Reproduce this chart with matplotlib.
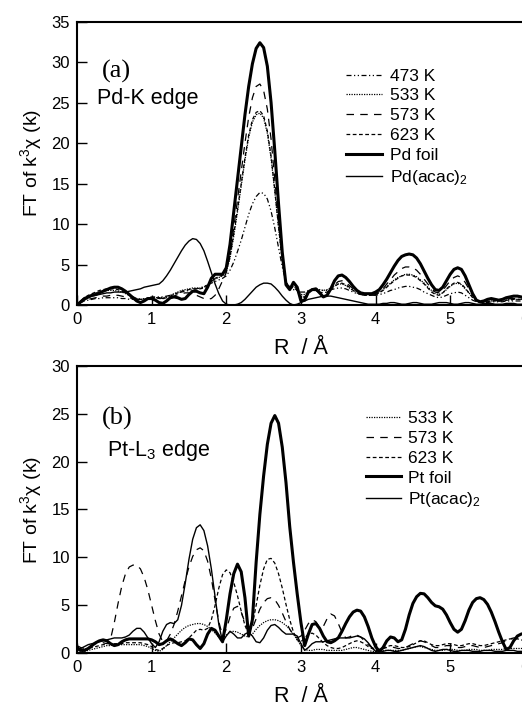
import numpy as np
import matplotlib
matplotlib.use("Agg")
import matplotlib.pyplot as plt

plt.rcParams['font.family'] = ['Liberation Sans', 'DejaVu Sans']
plt.rcParams['mathtext.fontset'] = 'custom'
plt.rcParams['mathtext.rm'] = 'Liberation Sans'
plt.rcParams['mathtext.it'] = 'Liberation Sans:italic'

# R grid (Angstrom), 0.05 step
r = np.linspace(0, 6, 121)

# ---------------- (a) Pd-K edge ----------------
pd_473 = [0, 0.3, 0.5, 0.6, 0.7, 0.8, 0.8, 0.9, 0.9, 0.9,
          0.9, 0.9, 0.8, 0.8, 0.7, 0.7, 0.7, 0.7, 0.8, 0.9,
          1.0, 1.0, 1.0, 1.0, 1.1, 1.2, 1.3, 1.5, 1.6, 1.7,
          1.8, 1.9, 2.0, 2.1, 2.3, 2.5, 2.7, 2.9, 3.1, 3.3,
          3.6, 4.3, 5.3, 6.6, 8.0, 9.6, 11.2, 12.5, 13.4, 13.9,
          13.8, 13.1, 11.6, 9.5, 7.1, 4.7, 2.9, 2.0, 1.9, 1.8,
          1.6, 1.6, 1.8, 1.9, 1.9, 1.8, 1.8, 1.8, 1.9, 2.0,
          2.1, 2.1, 2.0, 1.8, 1.6, 1.4, 1.3, 1.2, 1.2, 1.2,
          1.2, 1.3, 1.4, 1.6, 1.8, 1.9, 2.1, 2.2, 2.3, 2.3,
          2.2, 2.1, 1.9, 1.6, 1.4, 1.2, 1.0, 0.9, 1.0, 1.2,
          1.4, 1.5, 1.6, 1.5, 1.2, 0.9, 0.6, 0.4, 0.3, 0.3,
          0.3, 0.4, 0.4, 0.4, 0.4, 0.5, 0.5, 0.5, 0.5, 0.5,
          0.5]
pd_533 = [0, 0.5, 0.9, 1.1, 1.3, 1.5, 1.6, 1.7, 1.8, 1.8,
          1.8, 1.7, 1.6, 1.4, 1.2, 1.0, 0.8, 0.7, 0.7, 0.8,
          0.9, 0.9, 0.9, 0.9, 1.0, 1.2, 1.4, 1.6, 1.8, 1.9,
          2.0, 2.1, 2.1, 2.1, 2.2, 2.5, 2.9, 3.2, 3.4, 3.6,
          4.1, 5.8, 8.5, 11.5, 14.7, 17.9, 20.7, 22.6, 23.5, 23.7,
          23.1, 21.2, 18.1, 14.0, 9.6, 5.4, 2.8, 2.2, 2.3, 2.0,
          1.3, 1.3, 1.7, 2.0, 2.0, 1.9, 1.8, 1.9, 2.1, 2.4,
          2.6, 2.6, 2.4, 2.1, 1.8, 1.6, 1.4, 1.3, 1.3, 1.3,
          1.4, 1.6, 1.9, 2.3, 2.7, 3.1, 3.4, 3.6, 3.8, 3.8,
          3.7, 3.5, 3.1, 2.7, 2.2, 1.8, 1.4, 1.3, 1.5, 1.9,
          2.3, 2.6, 2.7, 2.5, 2.0, 1.5, 1.0, 0.6, 0.4, 0.4,
          0.5, 0.5, 0.6, 0.6, 0.6, 0.6, 0.7, 0.7, 0.7, 0.7,
          0.6]
pd_573 = [0, 0.3, 0.5, 0.7, 0.8, 0.9, 1.0, 1.1, 1.1, 1.2,
          1.2, 1.2, 1.1, 1.0, 0.9, 0.8, 0.7, 0.7, 0.7, 0.8,
          0.9, 0.9, 0.9, 0.8, 0.8, 0.9, 1.1, 1.3, 1.4, 1.5,
          1.5, 1.4, 1.2, 1.0, 0.8, 0.7, 0.8, 1.2, 2.0, 3.0,
          4.0, 6.3, 9.5, 13.0, 16.5, 20.0, 23.2, 25.6, 27.0, 27.3,
          26.5, 24.2, 20.5, 15.5, 10.5, 5.8, 2.8, 2.2, 2.4, 1.8,
          0.8, 0.9, 1.5, 1.8, 1.8, 1.5, 1.3, 1.4, 1.9, 2.5,
          2.9, 3.0, 2.8, 2.4, 2.0, 1.6, 1.4, 1.3, 1.2, 1.2,
          1.3, 1.6, 2.0, 2.6, 3.1, 3.7, 4.1, 4.5, 4.7, 4.7,
          4.6, 4.3, 3.8, 3.2, 2.6, 2.0, 1.6, 1.5, 1.8, 2.4,
          3.0, 3.4, 3.6, 3.4, 2.8, 2.0, 1.2, 0.6, 0.4, 0.4,
          0.5, 0.6, 0.6, 0.5, 0.6, 0.7, 0.8, 0.8, 0.8, 0.8,
          0.7]
pd_623 = [0, 0.5, 0.9, 1.2, 1.4, 1.6, 1.8, 1.9, 2.0, 2.0,
          2.0, 1.9, 1.7, 1.5, 1.2, 1.0, 0.8, 0.7, 0.7, 0.8,
          0.9, 0.9, 0.8, 0.8, 0.9, 1.1, 1.3, 1.5, 1.7, 1.8,
          1.9, 2.0, 2.0, 2.0, 2.1, 2.4, 2.9, 3.3, 3.5, 3.7,
          4.2, 6.0, 8.8, 11.8, 15.0, 18.2, 21.0, 22.9, 23.8, 24.0,
          23.4, 21.5, 18.4, 14.2, 9.7, 5.5, 2.7, 2.0, 2.2, 1.8,
          1.0, 1.0, 1.5, 1.8, 1.8, 1.6, 1.5, 1.6, 1.9, 2.3,
          2.6, 2.7, 2.5, 2.2, 1.8, 1.5, 1.3, 1.2, 1.2, 1.2,
          1.3, 1.5, 1.8, 2.2, 2.6, 3.0, 3.3, 3.6, 3.7, 3.7,
          3.6, 3.4, 3.0, 2.6, 2.1, 1.6, 1.3, 1.2, 1.5, 2.0,
          2.4, 2.7, 2.8, 2.6, 2.1, 1.5, 0.9, 0.5, 0.3, 0.3,
          0.4, 0.5, 0.5, 0.5, 0.5, 0.6, 0.6, 0.7, 0.7, 0.7,
          0.6]
pd_foil = [0, 0.4, 0.8, 1.0, 1.2, 1.3, 1.5, 1.7, 1.9, 2.1,
           2.2, 2.2, 2.0, 1.7, 1.3, 0.9, 0.5, 0.3, 0.5, 0.8,
           0.8, 0.6, 0.3, 0.2, 0.5, 0.9, 1.0, 0.9, 0.7, 0.8,
           1.3, 1.7, 1.7, 1.5, 1.4, 2.2, 3.3, 3.8, 3.8, 3.8,
           4.6, 7.5, 11.5, 15.5, 19.5, 23.5, 27.0, 29.8, 31.7, 32.4,
           31.8, 29.5, 25.0, 19.0, 12.5, 6.5, 2.5, 1.9, 2.8, 2.2,
           0.5, 0.6, 1.6, 1.9, 2.0, 1.5, 1.0, 1.2, 2.0, 3.0,
           3.6, 3.7, 3.4, 2.9, 2.3, 1.8, 1.5, 1.4, 1.4, 1.4,
           1.6, 1.9, 2.5, 3.2, 4.0, 4.8, 5.5, 6.0, 6.2, 6.3,
           6.2, 5.8, 5.1, 4.2, 3.3, 2.5, 1.9, 1.8, 2.2, 3.0,
           3.8, 4.4, 4.6, 4.4, 3.6, 2.5, 1.4, 0.6, 0.4, 0.5,
           0.7, 0.8, 0.7, 0.6, 0.7, 0.9, 1.0, 1.1, 1.1, 1.0,
           0.9]
pd_acac = [0, 0.3, 0.6, 0.9, 1.1, 1.2, 1.3, 1.4, 1.5, 1.5,
           1.6, 1.6, 1.6, 1.6, 1.7, 1.8, 1.9, 2.0, 2.2, 2.3,
           2.4, 2.5, 2.6, 3.0, 3.6, 4.3, 5.1, 5.9, 6.7, 7.4,
           7.9, 8.2, 8.1, 7.6, 6.7, 5.4, 4.0, 2.6, 1.4, 0.5,
           0.1, 0.0, 0.0, 0.1, 0.3, 0.7, 1.2, 1.7, 2.2, 2.5,
           2.7, 2.7, 2.6, 2.2, 1.7, 1.1, 0.6, 0.2, 0.0, 0.1,
           0.3, 0.5, 0.7, 0.8, 0.9, 1.0, 1.1, 1.1, 1.1, 1.0,
           0.9, 0.8, 0.7, 0.6, 0.5, 0.4, 0.3, 0.2, 0.1, 0.1,
           0.1, 0.1, 0.2, 0.2, 0.3, 0.3, 0.2, 0.1, 0.1, 0.2,
           0.3, 0.3, 0.2, 0.1, 0.1, 0.1, 0.2, 0.3, 0.3, 0.3,
           0.2, 0.1, 0.1, 0.2, 0.3, 0.3, 0.2, 0.1, 0.1, 0.2,
           0.2, 0.2, 0.1, 0.1, 0.1, 0.2, 0.2, 0.2, 0.1, 0.1,
           0.1]

# ---------------- (b) Pt-L3 edge ----------------
pt_533 = [0.3, 0.2, 0.2, 0.3, 0.4, 0.5, 0.6, 0.7, 0.8, 0.8,
          0.9, 0.9, 0.9, 0.9, 0.9, 0.9, 0.9, 0.9, 0.8, 0.7,
          0.5, 0.3, 0.2, 0.4, 0.8, 1.2, 1.6, 2.0, 2.4, 2.7,
          2.9, 3.0, 3.1, 3.1, 3.0, 2.8, 2.5, 2.1, 1.7, 1.6,
          1.9, 2.2, 2.3, 2.2, 2.0, 1.8, 1.7, 2.0, 2.5, 2.9,
          3.2, 3.4, 3.5, 3.5, 3.4, 3.2, 2.9, 2.5, 2.0, 1.4,
          0.8, 0.4, 0.3, 0.3, 0.4, 0.4, 0.4, 0.3, 0.3, 0.3,
          0.3, 0.3, 0.4, 0.5, 0.6, 0.6, 0.5, 0.4, 0.3, 0.2,
          0.2, 0.2, 0.3, 0.3, 0.3, 0.3, 0.3, 0.3, 0.4, 0.5,
          0.6, 0.7, 0.7, 0.6, 0.5, 0.4, 0.3, 0.3, 0.3, 0.4,
          0.4, 0.4, 0.3, 0.3, 0.3, 0.4, 0.4, 0.4, 0.3, 0.3,
          0.3, 0.4, 0.4, 0.4, 0.4, 0.5, 0.5, 0.5, 0.5, 0.5,
          0.5]
pt_573 = [0.8, 0.6, 0.5, 0.6, 0.8, 1.0, 1.1, 1.1, 1.0, 1.5,
          3.2, 5.2, 7.0, 8.3, 9.0, 9.2, 9.2, 8.8, 7.9, 6.6,
          5.0, 3.4, 2.0, 1.2, 1.3, 2.0, 3.0, 4.4, 6.0, 7.6,
          9.0, 10.1, 10.8, 11.0, 10.7, 9.6, 7.8, 5.5, 3.3, 1.8,
          2.5, 3.8, 4.7, 4.9, 4.3, 3.2, 2.3, 2.6, 3.6, 4.6,
          5.3, 5.7, 5.8, 5.6, 5.0, 4.2, 3.3, 2.5, 1.9, 1.6,
          1.8, 2.4, 3.1, 3.5, 3.3, 2.7, 2.8, 3.6, 4.1, 3.9,
          3.1, 2.2, 1.6, 1.7, 1.9, 1.9, 1.7, 1.3, 0.9, 0.6,
          0.4, 0.4, 0.5, 0.6, 0.7, 0.6, 0.5, 0.5, 0.6, 0.8,
          1.0, 1.2, 1.3, 1.2, 1.0, 0.8, 0.6, 0.6, 0.7, 0.8,
          0.8, 0.7, 0.6, 0.6, 0.7, 0.8, 0.8, 0.7, 0.6, 0.6,
          0.7, 0.8, 0.9, 1.0, 1.1, 1.3, 1.5, 1.6, 1.6, 1.6,
          1.6]
pt_623 = [0.4, 0.3, 0.4, 0.5, 0.6, 0.7, 0.8, 0.9, 1.0, 1.0,
          1.0, 1.0, 1.0, 1.1, 1.1, 1.1, 1.1, 1.1, 1.0, 0.9,
          0.7, 0.4, 0.3, 0.5, 0.8, 1.0, 1.1, 1.1, 1.2, 1.3,
          1.6, 2.0, 2.4, 2.5, 2.4, 2.6, 3.5, 5.0, 6.8, 8.2,
          8.7, 8.4, 7.4, 6.0, 4.4, 2.9, 2.0, 3.0, 5.0, 7.1,
          8.8, 9.8, 9.9, 9.4, 8.3, 6.8, 5.1, 3.5, 2.2, 1.4,
          1.2, 1.6, 2.0, 2.1, 1.9, 1.5, 1.1, 0.8, 0.6, 0.5,
          0.5, 0.6, 0.8, 1.0, 1.2, 1.3, 1.2, 1.0, 0.7, 0.5,
          0.4, 0.4, 0.5, 0.7, 0.8, 0.8, 0.7, 0.6, 0.6, 0.7,
          0.9, 1.1, 1.3, 1.3, 1.1, 0.9, 0.8, 0.8, 0.9, 1.0,
          1.0, 0.9, 0.8, 0.8, 0.9, 1.0, 1.0, 0.9, 0.8, 0.8,
          0.9, 1.0, 1.1, 1.2, 1.3, 1.4, 1.5, 1.5, 1.5, 1.4,
          1.3]
pt_foil = [0.6, 0.3, 0.3, 0.5, 0.8, 1.1, 1.3, 1.4, 1.3, 1.0,
           0.8, 0.9, 1.2, 1.4, 1.5, 1.5, 1.5, 1.5, 1.5, 1.5,
           1.4, 1.2, 0.9, 1.0, 1.3, 1.5, 1.3, 1.0, 0.8, 1.1,
           1.5, 1.4, 0.9, 0.5, 1.0, 2.0, 2.6, 2.4, 1.8, 1.2,
           3.5, 6.2, 8.3, 9.3, 8.5, 5.8, 1.8, 3.5, 9.5, 14.5,
           18.5, 21.8, 24.0, 24.8, 24.0, 21.5, 17.8, 13.2, 9.5, 6.2,
           3.2, 0.8, 2.0, 3.0, 3.1, 2.6, 1.8, 1.2, 1.1, 1.3,
           1.6, 2.3, 3.1, 3.8, 4.3, 4.5, 4.4, 3.8, 2.8, 1.6,
           0.7, 0.2, 0.6, 1.3, 1.7, 1.6, 1.2, 1.4, 2.5, 4.0,
           5.2, 5.9, 6.25, 6.2, 5.8, 5.3, 4.95, 4.85, 4.6, 4.0,
           3.2, 2.5, 2.2, 2.5, 3.4, 4.5, 5.3, 5.7, 5.8, 5.6,
           5.1, 4.3, 3.3, 2.2, 1.2, 0.4, 0.6, 1.3, 1.8, 2.0,
           2.1]
pt_acac = [0.3, 0.5, 0.7, 0.9, 1.0, 1.1, 1.2, 1.3, 1.4, 1.5,
           1.6, 1.6, 1.6, 1.7, 1.9, 2.3, 2.6, 2.6, 2.2, 1.6,
           1.0, 0.6, 1.2, 2.3, 3.0, 3.2, 3.1, 3.5, 5.0, 7.3,
           9.8, 11.9, 13.1, 13.4, 12.8, 11.2, 8.8, 5.9, 3.0, 1.2,
           1.8, 2.3, 2.0, 1.6, 1.6, 2.0, 2.2, 1.8, 1.2, 1.1,
           1.6, 2.4, 2.9, 3.0, 2.7, 2.3, 2.0, 2.0, 2.0, 1.8,
           1.0, 0.3, 0.6, 1.0, 1.2, 1.2, 1.2, 1.3, 1.4, 1.5,
           1.6, 1.6, 1.6, 1.6, 1.7, 1.8, 1.7, 1.5, 1.1, 0.6,
           0.2, 0.1, 0.2, 0.3, 0.3, 0.2, 0.2, 0.3, 0.4, 0.5,
           0.6, 0.7, 0.8, 0.7, 0.5, 0.3, 0.2, 0.3, 0.4, 0.4,
           0.3, 0.2, 0.2, 0.3, 0.3, 0.3, 0.2, 0.2, 0.2, 0.3,
           0.3, 0.3, 0.2, 0.2, 0.2, 0.3, 0.3, 0.3, 0.2, 0.2,
           0.2]

x_ticks = [0, 1, 2, 3, 4, 5, 6]

styles = {
    'dashdot': dict(color='black', lw=0.9, ls=(0, (4, 2, 1, 2, 1, 2))),
    'dotted': dict(color='black', lw=0.9, ls=(0, (1, 1))),
    'longdash': dict(color='black', lw=0.9, ls=(0, (6, 5))),
    'shortdash': dict(color='black', lw=0.9, ls=(0, (3, 2))),
    'foil': dict(color='black', lw=2.2, ls='-'),
    'acac': dict(color='black', lw=1.0, ls='-'),
}


def style_axes(ax, ymax):
    ax.set_xlim(0, 6)
    ax.set_ylim(0, ymax)
    ax.set_xticks(x_ticks)
    ax.set_yticks(np.arange(0, ymax + 1, 5))
    ax.tick_params(direction='in', length=7, width=1, labelsize=12, pad=5,
                   top=False, right=False)
    for s in ax.spines.values():
        s.set_linewidth(1.5)
    ax.set_xlabel('R  / Å', fontsize=15.5, labelpad=8)
    ax.set_ylabel('FT of k$^{3}$χ (k)', fontsize=14, labelpad=5)


fig = plt.figure(figsize=(5.22, 7.09), dpi=100)

# panel (a)
ax1 = fig.add_axes([0.1475, 0.5698, 0.858, 0.3996])
ax1.plot(r, pd_473, label='473 K', **styles['dashdot'])
ax1.plot(r, pd_533, label='533 K', **styles['dotted'])
ax1.plot(r, pd_573, label='573 K', **styles['longdash'])
ax1.plot(r, pd_623, label='623 K', **styles['shortdash'])
ax1.plot(r, pd_foil, label='Pd foil', **styles['foil'])
ax1.plot(r, pd_acac, label='Pd(acac)$_2$', **styles['acac'])
style_axes(ax1, 35)
ax1.text(0.33, 28.8, '(a)', family='Liberation Serif', fontsize=19, va='center')
ax1.text(0.27, 25.5, 'Pd-K edge', fontsize=15.5, va='center')
ax1.legend(loc='upper left', bbox_to_anchor=(0.60, 0.835), frameon=False,
           fontsize=12.5, handlelength=2.1, handletextpad=0.45,
           labelspacing=0.27, borderpad=0, borderaxespad=0)

# panel (b)
ax2 = fig.add_axes([0.1475, 0.0786, 0.858, 0.4056])
ax2.plot(r, pt_533, label='533 K', **styles['dotted'])
ax2.plot(r, pt_573, label='573 K', **styles['longdash'])
ax2.plot(r, pt_623, label='623 K', **styles['shortdash'])
ax2.plot(r, pt_foil, label='Pt foil', **styles['foil'])
ax2.plot(r, pt_acac, label='Pt(acac)$_2$', **styles['acac'])
style_axes(ax2, 30)
ax2.text(0.33, 24.5, '(b)', family='Liberation Serif', fontsize=19, va='center')
ax2.text(0.40, 21.2, 'Pt-L$_3$ edge', fontsize=15.5, va='center')
ax2.legend(loc='upper left', bbox_to_anchor=(0.645, 0.843), frameon=False,
           fontsize=12.5, handlelength=2.0, handletextpad=0.45,
           labelspacing=0.27, borderpad=0, borderaxespad=0)

fig.savefig('out.png', dpi=100)
